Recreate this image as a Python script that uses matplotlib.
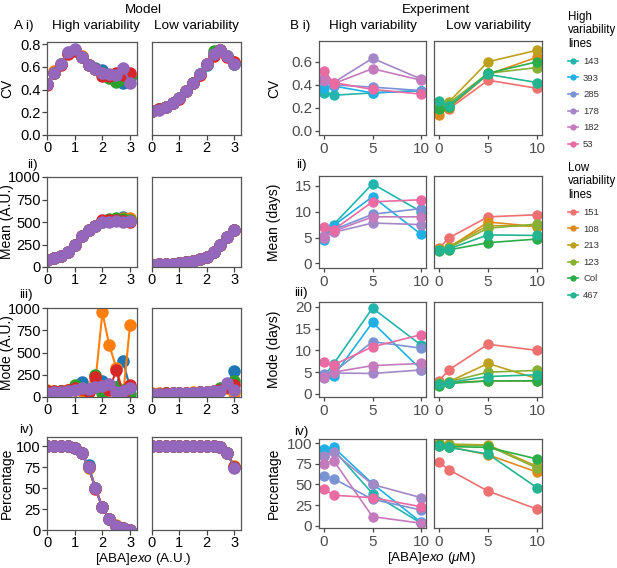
import matplotlib
matplotlib.use("Agg")
from matplotlib import pyplot as plt
from matplotlib.lines import Line2D

plt.rcParams["font.family"] = ["Liberation Sans", "DejaVu Sans"]
plt.rcParams["mathtext.fontset"] = "custom"
plt.rcParams["mathtext.rm"] = "Liberation Sans"
plt.rcParams["mathtext.it"] = "Liberation Sans:italic"

W, H = 617, 568

# ---------------- Model data (x = [ABA]exo, A.U.) ----------------
x_model = [0, 0.25, 0.5, 0.75, 1.0, 1.25, 1.5, 1.75, 2.0, 2.25, 2.5, 2.75, 3.0]
model_colors = ["#1f77b4", "#ff7f0e", "#2ca02c", "#d62728", "#9467bd"]

# order: blue, orange, green, red, purple
model_cv_high = [
    [0.45, 0.55, 0.63, 0.72, 0.75, 0.69, 0.62, 0.59, 0.57, 0.52, 0.49, 0.46, 0.50],
    [0.45, 0.56, 0.63, 0.72, 0.75, 0.70, 0.62, 0.58, 0.54, 0.53, 0.51, 0.52, 0.53],
    [0.45, 0.55, 0.63, 0.72, 0.75, 0.69, 0.62, 0.58, 0.55, 0.50, 0.47, 0.49, 0.51],
    [0.44, 0.55, 0.62, 0.71, 0.74, 0.69, 0.62, 0.58, 0.52, 0.52, 0.55, 0.53, 0.55],
    [0.45, 0.55, 0.63, 0.73, 0.76, 0.69, 0.62, 0.58, 0.55, 0.54, 0.53, 0.59, 0.46],
]
model_cv_low = [
    [0.21, 0.23, 0.25, 0.28, 0.33, 0.39, 0.46, 0.54, 0.62, 0.71, 0.75, 0.70, 0.63],
    [0.21, 0.23, 0.25, 0.28, 0.33, 0.39, 0.46, 0.53, 0.63, 0.71, 0.75, 0.70, 0.64],
    [0.21, 0.23, 0.25, 0.28, 0.33, 0.39, 0.46, 0.54, 0.63, 0.74, 0.75, 0.70, 0.63],
    [0.21, 0.23, 0.25, 0.28, 0.32, 0.39, 0.46, 0.53, 0.63, 0.70, 0.75, 0.69, 0.64],
    [0.21, 0.22, 0.25, 0.28, 0.33, 0.39, 0.46, 0.54, 0.63, 0.71, 0.75, 0.70, 0.63],
]
model_mean_high = [
    [75, 95, 120, 170, 245, 340, 415, 460, 495, 515, 525, 560, 520],
    [75, 95, 120, 170, 245, 340, 415, 460, 495, 515, 530, 540, 545],
    [75, 95, 120, 170, 245, 340, 415, 460, 500, 530, 550, 535, 520],
    [75, 95, 120, 170, 245, 340, 415, 455, 520, 520, 520, 510, 505],
    [75, 95, 120, 170, 245, 340, 415, 460, 495, 505, 510, 505, 515],
]
model_mean_low = [
    [25, 28, 32, 38, 45, 55, 65, 85, 110, 165, 245, 330, 415],
    [25, 28, 32, 38, 45, 55, 65, 85, 110, 165, 250, 330, 415],
    [25, 28, 32, 38, 45, 55, 65, 85, 110, 165, 245, 330, 415],
    [25, 28, 32, 38, 45, 55, 65, 85, 110, 165, 245, 330, 415],
    [25, 28, 32, 38, 45, 55, 65, 85, 110, 165, 240, 330, 415],
]
model_mode_high = [
    [70, 65, 70, 80, 100, 165, 90, 110, 185, 100, 110, 400, 100],
    [75, 70, 70, 75, 80, 70, 80, 180, 950, 580, 330, 30, 810],
    [65, 60, 65, 70, 130, 100, 70, 250, 50, 100, 110, 80, 30],
    [70, 65, 70, 75, 100, 90, 60, 230, 120, 80, 300, 30, 130],
    [50, 55, 60, 65, 80, 100, 90, 110, 120, 150, 60, 70, 105],
]
model_mode_low = [
    [35, 35, 40, 40, 45, 45, 50, 55, 60, 70, 80, 120, 295],
    [40, 40, 40, 45, 50, 50, 60, 60, 60, 70, 75, 100, 50],
    [35, 35, 40, 40, 45, 45, 50, 55, 20, 60, 100, 130, 175],
    [35, 35, 40, 40, 45, 50, 50, 55, 60, 70, 80, 110, 130],
    [30, 35, 35, 40, 40, 45, 50, 55, 60, 65, 65, 155, 75],
]
model_pct_high = [
    [100, 100, 100, 100, 98, 92, 77, 50, 27, 13, 5, 2, 0],
    [100, 100, 100, 100, 98, 92, 74, 50, 27, 13, 6, 2, 0],
    [100, 100, 100, 100, 98, 92, 75, 50, 27, 13, 5, 2, 0],
    [100, 100, 100, 100, 98, 92, 75, 49, 27, 13, 5, 2, 0],
    [100, 100, 100, 100, 98, 92, 75, 50, 27, 13, 5, 2, 0],
]
model_pct_low = [
    [100, 100, 100, 100, 100, 100, 100, 100, 100, 100, 99, 92, 75],
    [100, 100, 100, 100, 100, 100, 100, 100, 100, 100, 99, 92, 76],
    [100, 100, 100, 100, 100, 100, 100, 100, 100, 100, 99, 92, 75],
    [100, 100, 100, 100, 100, 100, 100, 100, 100, 100, 99, 92, 75],
    [100, 100, 100, 100, 100, 100, 100, 100, 100, 100, 99, 92, 74],
]

# ---------------- Experiment data (x = [ABA]exo, uM) ----------------
x_exp = [0, 1, 5, 10]
high_lines = ["143", "393", "285", "178", "182", "53"]
low_lines = ["151", "108", "213", "123", "Col", "467"]
line_colors = {
    "143": "#22b5ad", "393": "#1fb0e6", "285": "#7a93d4", "178": "#a388c8",
    "182": "#c57abd", "53": "#ea6aa2",
    "151": "#ef7070", "108": "#df8a1c", "213": "#bda01c", "123": "#88b034",
    "Col": "#2bad48", "467": "#22b590",
}

cv_exp = {
    "143": [0.33, 0.31, 0.33, 0.35], "393": [0.37, 0.39, 0.33, 0.35],
    "285": [0.43, 0.40, 0.38, 0.35], "178": [0.46, 0.42, 0.63, 0.45],
    "182": [0.44, 0.41, 0.54, 0.44], "53": [0.52, 0.42, 0.36, 0.32],
    "151": [0.18, 0.19, 0.44, 0.37], "108": [0.14, 0.20, 0.49, 0.64],
    "213": [0.20, 0.25, 0.60, 0.70], "123": [0.21, 0.24, 0.50, 0.55],
    "Col": [0.19, 0.21, 0.50, 0.60], "467": [0.26, 0.22, 0.49, 0.42],
}
mean_exp = {
    "143": [5.0, 7.5, 15.4, 10.0], "393": [4.5, 7.3, 12.9, 5.6],
    "285": [5.0, 6.5, 9.5, 10.6], "178": [5.2, 6.0, 7.8, 7.5],
    "182": [5.0, 6.2, 9.0, 9.0], "53": [7.0, 6.5, 11.9, 12.3],
    "151": [2.9, 4.9, 9.0, 9.4], "108": [2.7, 3.0, 8.0, 7.1],
    "213": [2.7, 3.2, 7.3, 7.2], "123": [2.6, 3.0, 6.8, 7.6],
    "Col": [2.3, 2.6, 4.0, 4.7], "467": [2.5, 2.8, 5.5, 5.4],
}
mode_exp = {
    "143": [4.0, 6.9, 19.7, 11.2], "393": [4.3, 4.1, 16.4, 5.6],
    "285": [4.5, 5.0, 12.0, 10.5], "178": [3.7, 4.8, 4.7, 5.5],
    "182": [3.8, 5.0, 6.5, 7.0], "53": [7.3, 6.7, 10.8, 13.6],
    "151": [3.0, 5.5, 11.4, 10.0], "108": [2.4, 2.6, 3.0, 3.0],
    "213": [2.3, 2.8, 7.0, 3.5], "123": [2.5, 2.8, 5.0, 5.4],
    "Col": [1.9, 2.4, 3.0, 3.0], "467": [2.2, 2.6, 4.0, 4.4],
}
pct_exp = {
    "143": [85, 92, 39, 3], "393": [93, 95, 51, 4],
    "285": [60, 57, 32, 19], "178": [84, 89, 50, 34],
    "182": [75, 79, 11, 3], "53": [45, 37, 34, 23],
    "151": [77, 68, 42, 20], "108": [97, 96, 86, 65],
    "213": [100, 99, 98, 72], "123": [99, 98, 97, 70],
    "Col": [98, 96, 95, 81], "467": [97, 95, 87, 46],
}

fig = plt.figure(figsize=(W / 100, H / 100), dpi=100)


def px_axes(l, t, r, b):
    return fig.add_axes([l / W, 1 - b / H, (r - l) / W, (b - t) / H])


# pixel boxes of the rows (top, bottom)
model_rows = [(42, 135), (177, 267), (308, 397), (437, 530)]
exp_rows = [(41, 135), (176, 268), (302, 397), (439, 528)]

model_sets = [
    (model_cv_high, model_cv_low, (0, 0.82), [0, 0.2, 0.4, 0.6, 0.8], ["0.0", "0.2", "0.4", "0.6", "0.8"], "CV"),
    (model_mean_high, model_mean_low, (0, 1000), [0, 250, 500, 750, 1000], None, "Mean (A.U.)"),
    (model_mode_high, model_mode_low, (0, 1000), [0, 250, 500, 750, 1000], None, "Mode (A.U.)"),
    (model_pct_high, model_pct_low, (0, 111), [0, 25, 50, 75, 100], None, "Percentage"),
]

for (top, bot), (hi, lo, ylim, yt, ytl, ylab) in zip(model_rows, model_sets):
    for k, (l, r, data) in enumerate([(47, 137, hi), (152, 241, lo)]):
        ax = px_axes(l, top, r, bot)
        for ys, c in zip(data, model_colors):
            ax.plot(x_model, ys, "-o", color=c, lw=1.5, ms=8)
        ax.set_xlim(0, 3.25)
        ax.set_ylim(*ylim)
        ax.set_xticks([0, 1, 2, 3])
        for s in ax.spines.values():
            s.set_color("#555555")
            s.set_linewidth(0.9)
        ax.tick_params(labelsize=10.5, length=3.5, width=0.9, color="#444444", pad=1)
        if k == 0:
            ax.set_yticks(yt)
            if ytl:
                ax.set_yticklabels(ytl)
            ax.set_ylabel(ylab, fontsize=10)
            ax.yaxis.set_label_coords((14 - l) / (r - l), 0.5)
        else:
            ax.set_yticks([])

exp_sets = [
    (cv_exp, (-0.035, 0.78), [0, 0.2, 0.4, 0.6], ["0.0", "0.2", "0.4", "0.6"], "CV"),
    (mean_exp, (-0.9, 16.9), [0, 5, 10, 15], None, "Mean (days)"),
    (mode_exp, (-0.7, 21.1), [0, 5, 10, 15, 20], None, "Mode (days)"),
    (pct_exp, (-2.8, 105.2), [0, 25, 50, 75, 100], None, "Percentage"),
]

for (top, bot), (data, ylim, yt, ytl, ylab) in zip(exp_rows, exp_sets):
    for k, (l, r, names) in enumerate([(319, 426, high_lines), (434, 542, low_lines)]):
        ax = px_axes(l, top, r, bot)
        for n in names:
            ax.plot(x_exp, data[n], "-o", color=line_colors[n], lw=1.2, ms=6.5)
        ax.set_xlim(-0.5, 10.5)
        ax.set_ylim(*ylim)
        ax.set_xticks([0, 5, 10])
        for s in ax.spines.values():
            s.set_color("#555555")
            s.set_linewidth(0.9)
        ax.tick_params(labelsize=11, length=3, width=0.9, color="#444444",
                       labelcolor="#4d4d4d", pad=2)
        if k == 0:
            ax.set_yticks(yt)
            if ytl:
                ax.set_yticklabels(ytl)
            ax.set_ylabel(ylab, fontsize=10)
            ax.yaxis.set_label_coords((281 - l) / (r - l), 0.5)
        else:
            ax.set_yticks([])


# titles and panel labels
def ftext(x, y, s, **kw):
    fig.text(x / W, 1 - y / H, s, fontsize=9.7, va="center", **kw)


ftext(143, 10, "Model", ha="center")
ftext(436, 10, "Experiment", ha="center")
ftext(96, 26, "High variability", ha="center")
ftext(196, 26, "Low variability", ha="center")
ftext(373, 26, "High variability", ha="center")
ftext(488, 26, "Low variability", ha="center")
ftext(14, 26, "A i)", ha="left")
ftext(27, 165, "ii)", ha="left")
ftext(19, 295, "iii)", ha="left")
ftext(19, 430, "iv)", ha="left")
ftext(290, 26, "B i)", ha="left")
ftext(296, 165, "ii)", ha="left")
ftext(294, 293, "iii)", ha="left")
ftext(294, 432, "iv)", ha="left")
ftext(143, 559, r"[ABA]$\it{exo}$ (A.U.)", ha="center")
ftext(431, 558, r"[ABA]$\it{exo}$ ($\it{\mu}$M)", ha="center")

# legends
for names, title, y in [(high_lines, "High\nvariability\nlines", 10),
                        (low_lines, "Low\nvariability\nlines", 161)]:
    handles = [Line2D([], [], color=line_colors[n], marker="o", lw=1.2, ms=3.5)
               for n in names]
    leg = fig.legend(handles, names, title=title, loc="upper left",
                     bbox_to_anchor=(567 / W, 1 - y / H), frameon=False,
                     fontsize=6.8, title_fontsize=8.3, handlelength=1.1,
                     handletextpad=0.5, labelspacing=0.8, alignment="left",
                     borderaxespad=0, borderpad=0.1)
    leg.get_title().set_linespacing(1.15)
    plt.setp(leg.get_texts(), color="#333333")

fig.savefig("out.png", dpi=100)
